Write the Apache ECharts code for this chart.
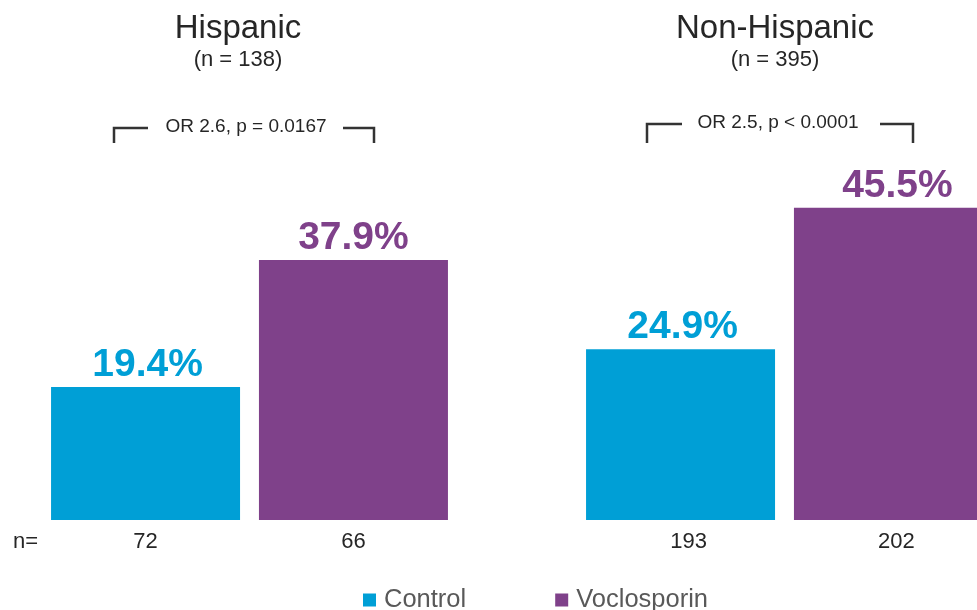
<!DOCTYPE html>
<html>
<head>
<meta charset="utf-8">
<script src="https://cdn.jsdelivr.net/npm/echarts@6/dist/echarts.min.js"></script>
<style>html,body{margin:0;padding:0;background:#fff;overflow:hidden;width:977px;height:610px;}#c{position:absolute;left:-18px;top:0;width:1070px;height:610px;}</style>
</head>
<body>
<div id="c"></div>
<script>
const categories = ['Hispanic', 'Non-Hispanic'];
const groupN = ['(n = 138)', '(n = 395)'];
const seriesNames = ['Control', 'Voclosporin'];
const controlPct = [19.4, 24.9];
const voclosporinPct = [37.9, 45.5];
const controlN = [72, 193];
const voclosporinN = [66, 202];
const oddsTexts = ['OR 2.6, p = 0.0167', 'OR 2.5, p < 0.0001'];

const FONT = '"Liberation Sans", Arial, sans-serif';
const BLUE = '#009FD6';
const PURPLE = '#7F418A';
const OX = 18; // container offset
// small horizontal label nudges per category (layout only)
const nLabelShift = [0, 8];

const chart = echarts.init(document.getElementById('c'), null, {renderer: 'canvas'});

function nSeries(name, stack, arr) {
  return {
    name: name, type: 'bar', stack: stack, barWidth: 189,
    data: arr.map((v, i) => ({value: 0, label: {offset: [nLabelShift[i], 0]}})),
    itemStyle: {color: 'transparent'},
    label: {show: true, position: 'bottom', distance: 11, fontFamily: FONT, fontSize: 22,
      color: '#262626', formatter: p => String(arr[p.dataIndex])},
    silent: true
  };
}
function pctSeries(name, stack, arr, color, shifts) {
  return {
    name: name, type: 'bar', stack: stack, barWidth: 189, barGap: '10%',
    data: arr.map((v, i) => ({value: v, label: {offset: [shifts[i], 0]}})),
    itemStyle: {color: color},
    label: {show: true, position: 'top', distance: 2, fontFamily: FONT, fontSize: 39,
      fontWeight: 'bold', color: color, formatter: p => p.value.toFixed(1) + '%'}
  };
}

function bracket(x1, x2, y, y2) {
  return [
    {type: 'polyline', shape: {points: [[x1[0] + OX, y2], [x1[0] + OX, y], [x1[1] + OX, y]]}, style: {stroke: '#333', lineWidth: 2.5, fill: null}},
    {type: 'polyline', shape: {points: [[x2[0] + OX, y], [x2[1] + OX, y], [x2[1] + OX, y2]]}, style: {stroke: '#333', lineWidth: 2.5, fill: null}}
  ];
}

const option = {
  animation: false,
  backgroundColor: '#fff',
  title: [
    {text: categories[0], subtext: groupN[0], left: 233 + OX, top: 7, textAlign: 'center', itemGap: 4,
      textStyle: {fontFamily: FONT, fontSize: 33, fontWeight: 'normal', color: '#262626'},
      subtextStyle: {fontFamily: FONT, fontSize: 22, color: '#262626'}},
    {text: categories[1], subtext: groupN[1], left: 770 + OX, top: 7, textAlign: 'center', itemGap: 4,
      textStyle: {fontFamily: FONT, fontSize: 33, fontWeight: 'normal', color: '#262626'},
      subtextStyle: {fontFamily: FONT, fontSize: 22, color: '#262626'}}
  ],
  legend: {
    data: seriesNames, left: 358 + OX, top: 582, icon: 'rect', itemWidth: 13, itemHeight: 13,
    itemGap: 89, textStyle: {fontFamily: FONT, fontSize: 25.5, color: '#595959', padding: [0, 0, 0, 3]}
  },
  grid: {left: 0, right: 0, top: 108.4, bottom: 90, containLabel: false},
  xAxis: {type: 'category', data: categories, show: false},
  yAxis: {type: 'value', min: 0, max: 60, show: false},
  series: [
    nSeries('nC', 'c', controlN),
    nSeries('nV', 'v', voclosporinN),
    pctSeries(seriesNames[0], 'c', controlPct, BLUE, [2, 2]),
    pctSeries(seriesNames[1], 'v', voclosporinPct, PURPLE, [0, 9])
  ],
  graphic: [].concat(
    bracket([114, 148], [343, 374], 128, 143),
    [{type: 'text', x: 246 + OX, y: 127, style: {text: oddsTexts[0], fontFamily: FONT, fontSize: 19, fill: '#262626', align: 'center', verticalAlign: 'middle'}}],
    bracket([647, 682], [880, 913], 124, 143),
    [{type: 'text', x: 778 + OX, y: 123, style: {text: oddsTexts[1], fontFamily: FONT, fontSize: 19, fill: '#262626', align: 'center', verticalAlign: 'middle'}},
     {type: 'text', x: 13 + OX, y: 542, style: {text: 'n=', fontFamily: FONT, fontSize: 22, fill: '#262626', align: 'left', verticalAlign: 'middle'}}]
  )
};
chart.setOption(option);
</script>
</body>
</html>
